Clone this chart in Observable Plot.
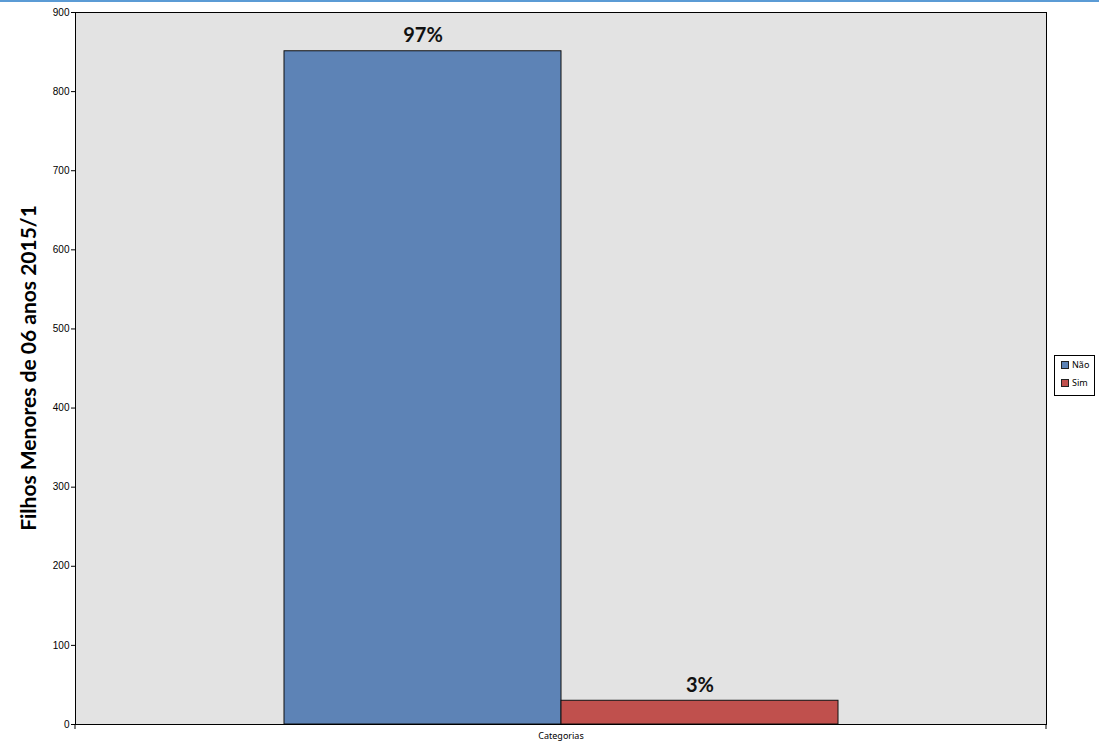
<!DOCTYPE html>
<html>
<head>
<meta charset="utf-8">
<script src="https://cdn.jsdelivr.net/npm/d3@7"></script>
<script src="https://cdn.jsdelivr.net/npm/@observablehq/plot@0.6"></script>
<style>
  html, body { margin: 0; padding: 0; background: #fff; }
  body { width: 1099px; height: 748px; position: relative; overflow: hidden; font-family: "Liberation Sans", "Noto Sans", sans-serif; }
  #topline { position: absolute; left: 0; top: 0; width: 1099px; height: 2px; background: #5b9bd5; }
  #chart { position: absolute; left: 0; top: 0; color: #000; }
  #legend { position: absolute; left: 1054px; top: 355px; width: 41px; height: 41px; border: 1px solid #000; background: #fff; box-sizing: border-box; font-family: "Noto Sans", "Liberation Sans", sans-serif; font-size: 9px; color: #000; }
  .item { position: absolute; left: 6px; height: 10px; line-height: 10px; }
  .sw { display: inline-block; width: 6px; height: 6px; border: 1px solid #222; vertical-align: middle; margin-right: 3px; position: relative; top: -1px; }
</style>
</head>
<body>
<div id="chart"></div>
<div id="topline"></div>
<div id="legend"></div>
<script>
// ---- data ----
const groupLabel = "Categorias";
const series = ["Não", "Sim"];
const values = [851, 30];
const percentLabels = ["97%", "3%"];
const colors = ["#5d83b6", "#c0504d"];
const yTicks = [0, 100, 200, 300, 400, 500, 600, 700, 800, 900];
const yTitle = "Filhos Menores de 06 anos 2015/1";

const data = series.map((s, i) => ({group: groupLabel, serie: s, value: values[i], label: percentLabels[i]}));

const W = 1099, H = 748;
const mL = 75, mR = 53, mT = 12, mB = 24;

// small tick marks at both ends of the category axis
const edgeTicks = (index, scales, values, dims) => {
  const g = d3.create("svg:g").attr("stroke", "#000");
  [dims.marginLeft, dims.width - dims.marginRight].forEach(x => {
    g.append("line").attr("x1", x).attr("x2", x)
      .attr("y1", dims.height - dims.marginBottom).attr("y2", dims.height - dims.marginBottom + 5);
  });
  return g.node();
};

const chart = Plot.plot({
  width: W,
  height: H,
  marginLeft: mL,
  marginRight: mR,
  marginTop: mT,
  marginBottom: mB,
  style: {fontFamily: "'Liberation Sans', 'Noto Sans', sans-serif", background: "transparent", overflow: "visible", color: "#000"},
  fx: {domain: [groupLabel], padding: 0, label: null},
  x: {domain: series, paddingInner: 0, paddingOuter: 0.7527, axis: null},
  y: {domain: [0, 900], label: null},
  color: {domain: series, range: colors},
  marks: [
    Plot.frame({fill: "#e3e3e3", stroke: null}),
    Plot.barY(data, {fx: "group", x: "serie", y: "value", fill: "serie", stroke: "#111", strokeWidth: 1}),
    Plot.text(data, {fx: "group", x: "serie", y: "value", text: "label", lineAnchor: "bottom", dy: -9,
      fontSize: 20, fontWeight: "bold", fill: "#111", fontFamily: "Lato, 'Open Sans', sans-serif"}),
    Plot.frame({stroke: "#000", strokeWidth: 1}),
    Plot.axisY({ticks: yTicks, tickSize: 4, tickPadding: 2, fontSize: 10, tickFormat: d3.format("d"), label: null, stroke: "#000", fill: "#000"}),
    Plot.axisFx({anchor: "bottom", tickSize: 0, tickPadding: 8, fontSize: 9, label: null, fill: "#000", fontFamily: "'Noto Sans', sans-serif"}),
    () => {
      return d3.create("svg:text")
        .attr("transform", `translate(31, ${(mT + H - mB) / 2}) rotate(-90)`)
        .attr("text-anchor", "middle")
        .attr("dominant-baseline", "middle")
        .attr("font-family", "Lato, 'Open Sans', sans-serif")
        .attr("font-weight", "bold")
        .attr("font-size", 21)
        .attr("fill", "#000")
        .text(yTitle).node();
    },
    edgeTicks
  ]
});
document.getElementById("chart").appendChild(chart);

// legend
const legend = document.getElementById("legend");
series.forEach((s, i) => {
  const item = document.createElement("div");
  item.className = "item";
  item.style.top = (4 + i * 18) + "px";
  const sw = document.createElement("span");
  sw.className = "sw";
  sw.style.background = colors[i];
  item.appendChild(sw);
  item.appendChild(document.createTextNode(s));
  legend.appendChild(item);
});
</script>
</body>
</html>
